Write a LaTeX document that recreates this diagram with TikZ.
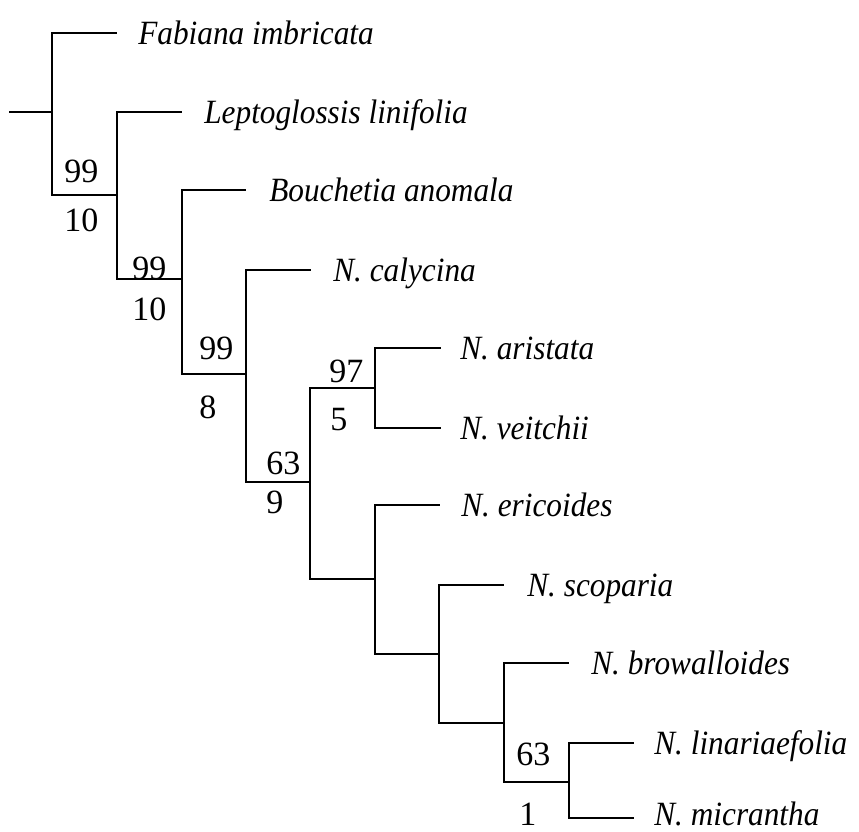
\documentclass[tikz,border=0pt]{standalone}
\usepackage{fontspec}
\setmainfont{Liberation Serif}
\newfontfamily\taxonfont[FakeStretch=0.92]{Liberation Serif}

\tikzset{
	taxon/.style={anchor=base west, inner sep=0pt, font=\fontsize{17}{20}\taxonfont\itshape},
	boot/.style={anchor=base west, inner sep=0pt, font=\fontsize{17}{20}\selectfont}
}

\begin{document}
\begin{tikzpicture}[x=0.5pt, y=-0.5pt, line width=1.35pt, line cap=rect]
		\useasboundingbox (0,0) rectangle (859,832);

		% internal nodes
		\coordinate (root) at (10,112);
		\coordinate (n1) at (52,112);
		\coordinate (n2) at (117,195);
		\coordinate (n3) at (182,279);
		\coordinate (n4) at (246,374);
		\coordinate (n5) at (310,482);
		\coordinate (n6) at (375,388);
		\coordinate (n7) at (375,579);
		\coordinate (n8) at (439,654);
		\coordinate (n9) at (504,723);
		\coordinate (n10) at (569,782);

		% tips
		\coordinate (fab) at (116,33);
		\coordinate (lep) at (181,112);
		\coordinate (bou) at (245,190);
		\coordinate (cal) at (310,270);
		\coordinate (ari) at (440,348);
		\coordinate (vei) at (440,428);
		\coordinate (eri) at (439,505);
		\coordinate (sco) at (503,585);
		\coordinate (bro) at (568,663);
		\coordinate (lin) at (633,743);
		\coordinate (mic) at (633,818);

		\draw (root) -- (n1);
		\draw (n1) |- (fab);
		\draw (n1) |- (n2);
		\draw (n2) |- (lep);
		\draw (n2) |- (n3);
		\draw (n3) |- (bou);
		\draw (n3) |- (n4);
		\draw (n4) |- (cal);
		\draw (n4) |- (n5);
		\draw (n5) |- (n6);
		\draw (n5) |- (n7);
		\draw (n6) |- (ari);
		\draw (n6) |- (vei);
		\draw (n7) |- (eri);
		\draw (n7) |- (n8);
		\draw (n8) |- (sco);
		\draw (n8) |- (n9);
		\draw (n9) |- (bro);
		\draw (n9) |- (n10);
		\draw (n10) |- (lin);
		\draw (n10) |- (mic);

		% taxon names
		\node[taxon] (fabtxt) at (137,44) {Fabiana imbricata};
		\node[taxon] (leptxt) at (203,123) {Leptoglossis linifolia};
		\node[taxon] (boutxt) at (268,201) {Bouchetia anomala};
		\node[taxon] (caltxt) at (332,281) {N. calycina};
		\node[taxon] (aritxt) at (459,359) {N. aristata};
		\node[taxon] (veitxt) at (459,439) {N. veitchii};
		\node[taxon] (eritxt) at (460,516) {N. ericoides};
		\node[taxon] (scotxt) at (526,596) {N. scoparia};
		\node[taxon] (brotxt) at (590,674) {N. browalloides};
		\node[taxon] (lintxt) at (653,754) {N. linariaefolia};
		\node[taxon] (mictxt) at (653,825) {N. micrantha};

		% support values
		\node[boot] (b1a) at (63,182) {99};
		\node[boot] (b1b) at (63,231) {10};
		\node[boot] (b2a) at (131,279) {99};
		\node[boot] (b2b) at (131,320) {10};
		\node[boot] (b3a) at (198,359) {99};
		\node[boot] (b3b) at (198,418) {8};
		\node[boot] (b4a) at (265,474) {63};
		\node[boot] (b4b) at (265,513) {9};
		\node[boot] (b5a) at (328,382) {97};
		\node[boot] (b5b) at (329,430) {5};
		\node[boot] (b6a) at (515,765) {63};
		\node[boot] (b6b) at (518,825) {1};
\end{tikzpicture}
\end{document}
